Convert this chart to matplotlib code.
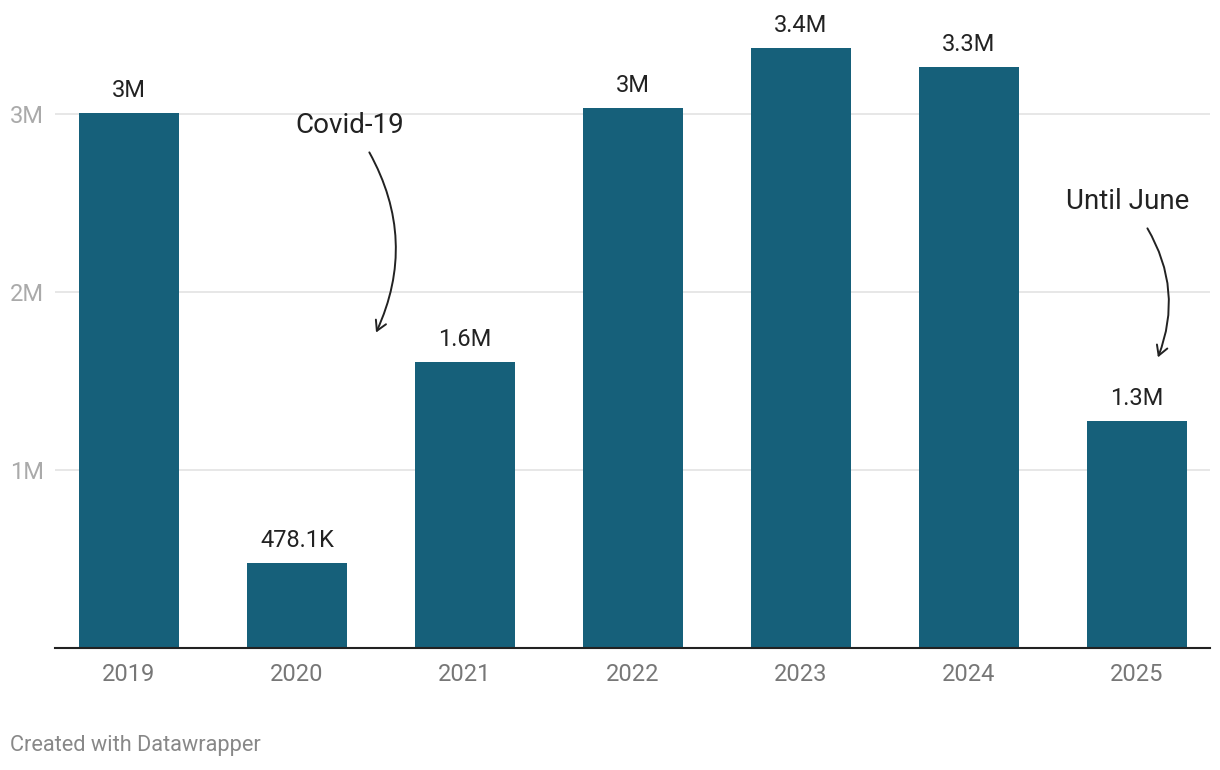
import matplotlib.pyplot as plt
from matplotlib.patches import FancyArrowPatch

# data
years = ['2019', '2020', '2021', '2022', '2023', '2024', '2025']
visitors = [3006000, 478100, 1607000, 3034000, 3370000, 3264000, 1275000]
y_ticks = [1000000, 2000000, 3000000]
y_tick_labels = ['1M', '2M', '3M']

bar_color = '#16607a'
plt.rcParams['font.family'] = ['Roboto', 'DejaVu Sans']


def fmt(v):
    if v >= 1e6:
        s = f'{v / 1e6:.1f}'
        if s.endswith('.0'):
            s = s[:-2]
        return s + 'M'
    s = f'{v / 1e3:.1f}'
    if s.endswith('.0'):
        s = s[:-2]
    return s + 'K'


fig = plt.figure(figsize=(12.2, 7.7), dpi=100)
ax = fig.add_axes([55 / 1220, 122 / 770, 1155 / 1220, 618 / 770])

x = list(range(len(years)))
ax.bar(x, visitors, width=0.595, color=bar_color, zorder=2)

for xi, v in zip(x, visitors):
    ax.annotate(fmt(v), (xi, v), xytext=(0, 8), textcoords='offset points',
                ha='center', va='bottom', fontsize=17, color='#222222')

ax.set_xlim(-0.44, 6.435)
ax.set_ylim(0, 618 / 178 * 1e6)

ax.set_yticks(y_ticks)
ax.set_yticklabels(y_tick_labels, ha='left')
ax.set_xticks(x)
ax.set_xticklabels(years)

ax.grid(axis='y', color='#e3e3e3', linewidth=1.2, zorder=0)
# left aligned labels starting ~45px left of the axes
ax.tick_params(axis='y', length=0, pad=32.4, labelsize=17, labelcolor='#aaaaaa')
ax.tick_params(axis='x', length=0, pad=11, labelsize=17, labelcolor='#777777')

for s in ['top', 'right', 'left']:
    ax.spines[s].set_visible(False)
ax.spines['bottom'].set_color('#222222')
ax.spines['bottom'].set_linewidth(1.5)
ax.spines['bottom'].set_zorder(3)

# annotations
ax.text(1.315, 2.938e6, 'Covid-19', ha='center', va='center', fontsize=20, color='#222222')
ax.add_patch(FancyArrowPatch((1.423, 2.798e6), (1.464, 1.758e6),
                             connectionstyle='arc3,rad=-0.26', arrowstyle='->,head_length=7,head_width=4',
                             color='#222222', linewidth=1.4, zorder=4))

ax.text(5.946, 2.511e6, 'Until June', ha='center', va='center', fontsize=20, color='#222222')
ax.add_patch(FancyArrowPatch((6.054, 2.371e6), (6.119, 1.618e6),
                             connectionstyle='arc3,rad=-0.25', arrowstyle='->,head_length=7,head_width=4',
                             color='#222222', linewidth=1.4, zorder=4))

fig.text(10 / 1220, 1 - 746 / 770, 'Created with Datawrapper', ha='left', va='center',
         fontsize=15.7, color='#888888')

fig.savefig('out.png', dpi=100)
